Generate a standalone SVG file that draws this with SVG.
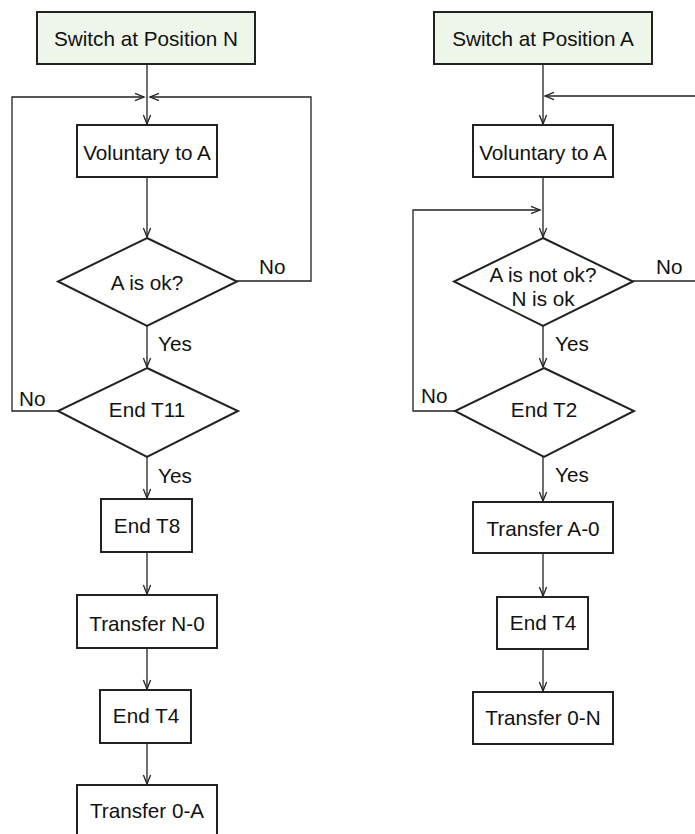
<svg xmlns="http://www.w3.org/2000/svg" width="695" height="834" viewBox="0 0 695 834">
<defs>
<marker id="arr" markerUnits="userSpaceOnUse" markerWidth="12" markerHeight="10" viewBox="-10 -5 12 10" refX="0" refY="0" orient="auto">
<path d="M-9,-3.6 L0,0 L-9,3.6" fill="none" stroke="#222" stroke-width="1.3"/>
</marker>
<style>
.box{fill:#fff;stroke:#222;stroke-width:2}
.start{fill:#eef5e9;stroke:#222;stroke-width:2}
.dia{fill:#fff;stroke:#222;stroke-width:2}
.t{font-family:"Liberation Sans",Arial,sans-serif;font-size:20.7px;fill:#111;text-anchor:middle}
.l{font-family:"Liberation Sans",Arial,sans-serif;font-size:20.7px;fill:#111}
.c{fill:none;stroke:#222;stroke-width:1.3}
</style>
</defs>
<rect width="695" height="834" fill="#fff"/>
<g id="connectors">
<line class="c" x1="147" y1="64" x2="147" y2="124" marker-end="url(#arr)"/>
<polyline class="c" points="58,411 12,411 12,97 144,97" marker-end="url(#arr)"/>
<polyline class="c" points="237,281 311,281 311,97 150,97" marker-end="url(#arr)"/>
<line class="c" x1="147" y1="177" x2="147" y2="237" marker-end="url(#arr)"/>
<line class="c" x1="147" y1="326" x2="147" y2="367" marker-end="url(#arr)"/>
<line class="c" x1="147" y1="457" x2="147" y2="498" marker-end="url(#arr)"/>
<line class="c" x1="147" y1="552" x2="147" y2="594" marker-end="url(#arr)"/>
<line class="c" x1="147" y1="648" x2="147" y2="689" marker-end="url(#arr)"/>
<line class="c" x1="147" y1="743" x2="147" y2="784" marker-end="url(#arr)"/>
<line class="c" x1="543" y1="64" x2="543" y2="124" marker-end="url(#arr)"/>
<line class="c" x1="710" y1="96" x2="545" y2="96" marker-end="url(#arr)"/>
<line class="c" x1="543" y1="177" x2="543" y2="237" marker-end="url(#arr)"/>
<polyline class="c" points="455,411 413,411 413,210 540,210" marker-end="url(#arr)"/>
<line class="c" x1="633" y1="281" x2="710" y2="281"/>
<line class="c" x1="543" y1="326" x2="543" y2="367" marker-end="url(#arr)"/>
<line class="c" x1="543" y1="457" x2="543" y2="501" marker-end="url(#arr)"/>
<line class="c" x1="543" y1="553" x2="543" y2="596" marker-end="url(#arr)"/>
<line class="c" x1="543" y1="649" x2="543" y2="691" marker-end="url(#arr)"/>
</g>
<g id="labels">
<text class="l" x="259" y="274">No</text>
<text class="l" x="158" y="351">Yes</text>
<text class="l" x="19" y="405.5">No</text>
<text class="l" x="158" y="483">Yes</text>
<text class="l" x="656" y="274">No</text>
<text class="l" x="555" y="351">Yes</text>
<text class="l" x="421" y="403">No</text>
<text class="l" x="555" y="482">Yes</text>
</g>
<g id="switchN"><rect class="start" x="37" y="12" width="218" height="52"/><text class="t" x="146" y="45.5">Switch at Position N</text></g>
<g id="volN"><rect class="box" x="77" y="125" width="140" height="52"/><text class="t" x="147" y="159.5">Voluntary to A</text></g>
<g id="aok"><polygon class="dia" points="147,238 237,281.5 147,326 58,281.5"/><text class="t" x="147" y="289.5">A is ok?</text></g>
<g id="t11"><polygon class="dia" points="147,368 238,411 147,457 58,411"/><text class="t" x="147" y="417">End T11</text></g>
<g id="t8"><rect class="box" x="101" y="499" width="91" height="53"/><text class="t" x="147" y="532.5">End T8</text></g>
<g id="tn0"><rect class="box" x="77" y="595" width="140" height="53"/><text class="t" x="147" y="630.5">Transfer N-0</text></g>
<g id="t4n"><rect class="box" x="100" y="690" width="91" height="53"/><text class="t" x="146" y="723">End T4</text></g>
<g id="t0a"><rect class="box" x="77" y="785" width="140" height="53"/><text class="t" x="147" y="818">Transfer 0-A</text></g>
<g id="switchA"><rect class="start" x="434" y="12" width="218" height="52"/><text class="t" x="543" y="45.5">Switch at Position A</text></g>
<g id="volA"><rect class="box" x="473" y="125" width="140" height="52"/><text class="t" x="543" y="159.5">Voluntary to A</text></g>
<g id="anok"><polygon class="dia" points="543,238 633,281.5 543,326 454,281.5"/><text class="t" x="543" y="282">A is not ok?</text><text class="t" x="543" y="306">N is ok</text></g>
<g id="t2"><polygon class="dia" points="544,368 634,411 544,457 455,411"/><text class="t" x="544" y="416.5">End T2</text></g>
<g id="ta0"><rect class="box" x="473" y="502" width="140" height="51"/><text class="t" x="543" y="536">Transfer A-0</text></g>
<g id="t4a"><rect class="box" x="497" y="597" width="91" height="52"/><text class="t" x="543" y="629.5">End T4</text></g>
<g id="t0n"><rect class="box" x="473" y="692" width="140" height="52"/><text class="t" x="543" y="724.5">Transfer 0-N</text></g>
</svg>
